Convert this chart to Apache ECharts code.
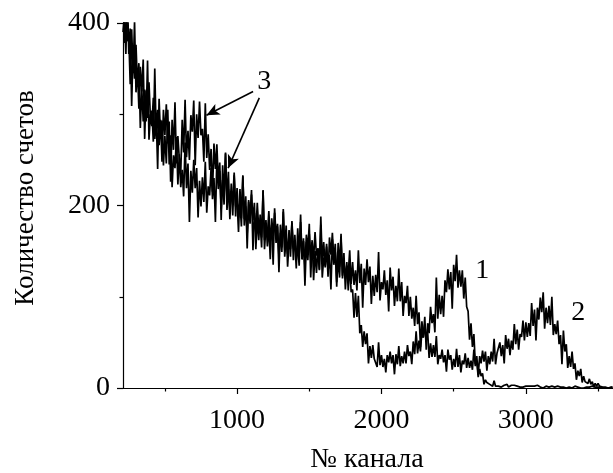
<!DOCTYPE html>
<html><head><meta charset="utf-8">
<script src="https://cdn.jsdelivr.net/npm/echarts@6/dist/echarts.min.js"></script>
<style>html,body{margin:0;padding:0;background:#fff}#c{width:613px;height:473px}</style>
</head><body><div id="c"></div>
<script>
// channel numbers: first channel and step between samples
const CH_START = 210, CH_STEP = 10;

// spectrum 1 (photopeak ~2530, backscatter bump ~720)
const spectrum1 = [
433,378,434,380,385,333,393,345,402,324,
350,306,352,325,360,273,326,296,335,295,
304,270,350,277,305,266,294,248,305,277,
311,268,292,226,294,261,313,246,276,251,
236,294,258,316,253,282,250,299,281,315,
244,300,274,314,277,284,248,312,252,278,
239,262,215,268,240,267,226,247,184,244,
212,257,195,218,194,224,189,233,199,205,
171,218,186,233,178,199,169,206,186,217,
151,192,170,203,174,181,154,216,162,184,
155,177,141,186,166,192,159,177,127,179,
154,193,144,165,147,173,144,183,153,161,
131,175,146,190,141,161,133,168,151,180,
121,160,141,171,145,153,129,188,137,160,
132,155,122,165,146,170,140,158,111,159,
133,169,120,138,119,138,107,136,105,108,
77,104,78,101,60,69,45,62,48,60,
27,46,33,47,32,34,23,50,25,36,
23,32,17,36,28,40,27,36,15,37,
26,46,24,35,27,40,27,47,35,40,
26,51,37,62,38,52,40,62,55,78,
42,71,60,89,71,81,61,121,76,102,
81,101,78,118,105,130,108,127,87,135,
117,146,110,129,111,129,98,121,89,84,
53,71,45,59,26,29,12,21,13,16,
4,9,6,8,4,5,2,8,2,4,
2,4,1,3,3,2,4,1,2,3,
1,3,2,2,3,1,2,1,3,2,
1,2,1,2,0,2,1,3,1,1,
2,0,1,2,1,1,0,2,1,1,
0,2,1,1,0,1,2,0,1,1,
1,0,1,2,0,1,1,0,2,0,
1,1,0,1,0,2,0,1,0,1,
0,1,1,0,1,0,1,0,0,1
];

// spectrum 2 (photopeak ~3130, backscatter bump ~900)
const spectrum2 = [
390,409,366,436,366,394,309,375,339,376,
332,356,285,329,292,327,292,359,272,300,
287,318,273,297,240,317,275,293,244,276,
246,305,245,277,220,255,241,275,223,256,
220,239,210,269,219,246,182,238,214,250,
219,241,187,227,199,231,204,248,192,221,
211,241,207,230,182,252,218,238,196,228,
201,258,206,237,185,216,206,236,188,219,
187,204,177,232,185,210,153,204,180,212,
184,203,152,187,162,190,165,217,152,177,
168,194,161,179,135,197,165,180,144,170,
149,196,151,178,133,161,152,181,140,168,
140,156,134,182,141,164,112,160,140,169,
143,162,118,150,126,153,130,179,121,143,
134,158,128,146,108,163,135,149,116,141,
121,164,123,148,108,134,125,151,114,138,
113,129,107,151,115,136,88,131,113,141,
116,133,92,123,101,124,105,149,96,116,
108,129,102,118,84,132,107,122,90,112,
95,131,95,116,79,101,93,112,79,100,
76,88,68,101,70,83,45,73,56,70,
52,61,33,49,34,47,34,57,26,36,
32,42,28,36,18,42,31,36,20,32,
23,43,23,36,17,30,26,38,22,33,
22,30,20,42,24,35,14,35,27,41,
29,40,19,35,26,40,29,54,26,38,
36,50,35,47,27,58,43,54,36,52,
42,70,48,64,42,59,56,74,52,72,
56,71,57,93,68,86,52,88,75,99,
83,105,65,88,71,90,69,100,58,70,
59,74,48,58,26,63,40,48,22,35,
23,40,21,27,9,19,13,21,6,13,
7,8,5,10,4,7,1,5,2,5,
2,3,1,3,1,2,0,2,1,1
];

const xMajorTicks = [1000, 2000, 3000];
const xMinorTicks = [500, 1500, 2500, 3500];
const X_MIN = 210, X_MAX = 3600;
const Y_MIN = 0, Y_MAX = 400, Y_STEP = 200;
const xTitle = '№ канала';
const yTitle = 'Количество счетов';

// annotation labels [text, channel, counts]
const peakLabels = [['1', 2698, 129], ['2', 3362, 83], ['3', 1189, 336]];
// arrows from label "3" to backscatter bumps [fromCh, fromCnt, toCh, toCnt]
const arrows = [[1111, 325, 788, 299], [1154, 318, 938, 241]];

const FONT = '"Liberation Serif", "Times New Roman", serif';
const toData = arr => arr.map((v, i) => [CH_START + i * CH_STEP, v]);

const chart = echarts.init(document.getElementById('c'), null, {renderer: 'canvas'});
const lineStyle = {color: '#000', width: 1.7, join: 'bevel'};
chart.setOption({
  animation: false,
  backgroundColor: '#fff',
  grid: {left: 123, right: 0.5, top: 23, bottom: 85, containLabel: false},
  graphic: [
    {type: 'text', x: 26, y: 198, rotation: Math.PI / 2,
     style: {text: yTitle, font: '27px ' + FONT, fill: '#000', align: 'center', verticalAlign: 'middle'}},
    {type: 'text', x: 367, y: 460,
     style: {text: xTitle, font: '28px ' + FONT, fill: '#000', align: 'center', verticalAlign: 'middle'}}
  ],
  xAxis: [{
    type: 'value', min: X_MIN, max: X_MAX,
    axisLine: {show: true, onZero: false, lineStyle: {color: '#000', width: 1.2}},
    axisTick: {show: true, inside: false, length: 6, customValues: xMajorTicks, lineStyle: {color: '#000', width: 1.2}},
    axisLabel: {customValues: xMajorTicks, margin: 19, fontFamily: FONT, fontSize: 28, color: '#000',
                formatter: v => String(v)},
    splitLine: {show: false}
  }, {
    type: 'value', min: X_MIN, max: X_MAX, position: 'bottom',
    axisLine: {show: false},
    axisTick: {show: true, inside: false, length: 3.5, customValues: xMinorTicks, lineStyle: {color: '#000', width: 1.2}},
    axisLabel: {show: false},
    splitLine: {show: false}
  }],
  yAxis: {
    type: 'value', min: Y_MIN, max: Y_MAX, interval: Y_STEP,
    axisLine: {show: true, lineStyle: {color: '#000', width: 1.2}},
    axisTick: {show: true, inside: false, length: 6, lineStyle: {color: '#000', width: 1.2}},
    minorTick: {show: true, splitNumber: 2, length: 3.5, lineStyle: {color: '#000', width: 1.2}},
    axisLabel: {margin: 13, fontFamily: FONT, fontSize: 28, color: '#000', formatter: v => String(v)},
    splitLine: {show: false}
  },
  series: [{
    type: 'line', data: toData(spectrum1), showSymbol: false, symbol: 'none',
    lineStyle: lineStyle, clip: true, z: 2,
    markLine: {
      silent: true, symbol: ['none', 'arrow'], symbolSize: [9, 13], precision: 4,
      label: {show: false},
      lineStyle: {color: '#000', width: 1.6, type: 'solid'},
      data: arrows.map(a => [{coord: [a[0], a[1]]}, {coord: [a[2], a[3]]}])
    },
    markPoint: {
      silent: true, symbol: 'circle', symbolSize: 1,
      itemStyle: {color: 'rgba(0,0,0,0)'},
      label: {show: true, position: 'inside', fontFamily: FONT, fontSize: 28, color: '#000',
              formatter: p => p.name},
      data: peakLabels.map(l => ({name: l[0], coord: [l[1], l[2]]}))
    }
  }, {
    type: 'line', data: toData(spectrum2), showSymbol: false, symbol: 'none',
    lineStyle: lineStyle, clip: true, z: 2
  }]
});
</script>
</body></html>
